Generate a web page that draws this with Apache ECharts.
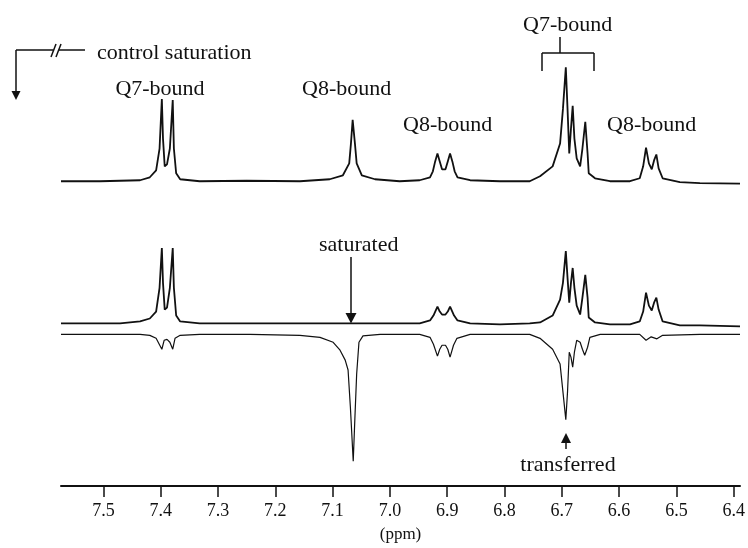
<!DOCTYPE html>
<html>
<head>
<meta charset="utf-8">
<script src="https://cdn.jsdelivr.net/npm/echarts@6/dist/echarts.min.js"></script>
<style>
  html, body { margin: 0; padding: 0; background: #fff; }
  #nmr { width: 748px; height: 548px; }
</style>
</head>
<body>
<div id="nmr"></div>
<script>
// [ppm, intensity] pairs (arbitrary units, baseline = 0)
var controlSpectrum = [
  [7.574, 0], [7.506, 0], [7.436, 1], [7.419, 4], [7.408, 11], [7.402, 33], [7.398, 83],
  [7.396, 43], [7.393, 15], [7.389, 17], [7.384, 33], [7.379, 82], [7.377, 33], [7.373, 8],
  [7.366, 2], [7.332, 0], [7.25, 0.5], [7.157, 0], [7.105, 2], [7.082, 6], [7.071, 18],
  [7.068, 38], [7.065, 62], [7.061, 38], [7.058, 18], [7.049, 6], [7.026, 2], [6.983, 0],
  [6.948, 1], [6.93, 4], [6.925, 10], [6.921, 20], [6.917, 28], [6.913, 20], [6.909, 12],
  [6.906, 10], [6.903, 12], [6.899, 20], [6.895, 28], [6.891, 20], [6.887, 10], [6.882, 4],
  [6.86, 1], [6.808, 0], [6.756, 0], [6.738, 5], [6.716, 15],
  [6.703, 38], [6.698, 73], [6.693, 115], [6.69, 73], [6.687, 28], [6.684, 53], [6.681, 76],
  [6.678, 43], [6.674, 23], [6.668, 15], [6.664, 33], [6.659, 60], [6.655, 28], [6.653, 8],
  [6.642, 3], [6.616, 0], [6.581, 0], [6.564, 3], [6.558, 15], [6.553, 34], [6.548, 18],
  [6.543, 12], [6.539, 21], [6.535, 27], [6.531, 13], [6.524, 3], [6.494, -1], [6.459, -2],
  [6.389, -2.5]
];

var saturatedSpectrum = [
  [7.574, 0], [7.471, 0], [7.436, 2], [7.419, 5], [7.408, 12], [7.402, 36], [7.398, 76],
  [7.396, 41], [7.393, 14], [7.389, 16], [7.384, 36], [7.379, 76], [7.377, 36], [7.373, 8],
  [7.366, 2], [7.332, 0], [7.2, 0], [7.07, 0], [6.948, 0], [6.93, 3], [6.924, 8],
  [6.917, 17], [6.913, 12], [6.909, 9], [6.906, 8], [6.903, 9], [6.899, 12], [6.895, 17],
  [6.888, 8], [6.882, 3], [6.86, 0],
  [6.808, -1], [6.756, 0], [6.738, 1], [6.716, 8], [6.703, 24], [6.698, 41], [6.693, 73],
  [6.69, 46], [6.687, 21], [6.684, 41], [6.681, 56], [6.678, 36], [6.674, 18], [6.668, 9],
  [6.664, 26], [6.659, 49], [6.655, 26], [6.653, 6], [6.642, 1], [6.616, -1], [6.581, -1],
  [6.564, 2], [6.558, 12], [6.553, 31], [6.548, 18], [6.543, 13], [6.539, 21], [6.535, 26],
  [6.531, 14], [6.524, 2], [6.494, -2], [6.459, -2], [6.389, -3]
];

var differenceSpectrum = [
  [7.574, 0], [7.436, 0], [7.419, -1], [7.408, -4], [7.398, -15], [7.394, -6], [7.389, -5],
  [7.384, -8], [7.379, -15], [7.375, -4], [7.366, -1], [7.332, 0], [7.244, 0], [7.157, -1],
  [7.122, -3], [7.099, -8], [7.087, -16], [7.078, -26], [7.073, -36], [7.069, -73],
  [7.064, -128], [7.061, -83], [7.058, -40], [7.054, -8], [7.047, -1.5], [7.017, 0],
  [6.948, 0], [6.93, -3], [6.924, -10], [6.917, -22], [6.913, -15], [6.909, -11], [6.906, -10],
  [6.903, -11], [6.899, -15], [6.895, -23], [6.889, -11], [6.883, -4], [6.86, 0],
  [6.756, 0], [6.738, -4], [6.716, -15], [6.703, -30],
  [6.698, -58], [6.693, -86], [6.69, -58], [6.687, -18], [6.684, -23], [6.681, -33],
  [6.678, -18], [6.674, -6], [6.668, -8], [6.664, -15], [6.66, -21], [6.655, -13],
  [6.651, -3], [6.633, 0], [6.564, 0], [6.553, -6], [6.544, -2.5], [6.534, -4.5],
  [6.524, -1], [6.459, 0], [6.389, 0]
];

var tickValues = [6.4, 6.5, 6.6, 6.7, 6.8, 6.9, 7.0, 7.1, 7.2, 7.3, 7.4, 7.5];

var serif = '"Liberation Serif", "DejaVu Serif", serif';

var myChart = echarts.init(document.getElementById("nmr"));

// hidden y axes, one per trace, so the three spectra stack vertically
function stackAxis(max, min) {
  return { type: "value", min: min, max: max, show: false };
}

function trace(data, axis, width) {
  return {
    type: "line",
    data: data,
    yAxisIndex: axis,
    symbol: "none",
    smooth: false,
    lineStyle: { color: "#111", width: width },
    silent: true,
  };
}

var txt = function (text, x, y, align) {
  return {
    type: "text",
    x: x,
    y: y,
    style: {
      text: text,
      font: "22px " + serif,
      fill: "#111",
      align: align || "left",
      verticalAlign: "middle",
    },
  };
};
var seg = function (x1, y1, x2, y2) {
  return {
    type: "line",
    shape: { x1: x1, y1: y1, x2: x2, y2: y2 },
    style: { stroke: "#111", lineWidth: 1.5 },
  };
};
var head = function (pts) {
  return { type: "polygon", shape: { points: pts }, style: { fill: "#111" } };
};

var option = {
  animation: false,
  backgroundColor: "#fff",
  grid: { left: 61, right: 8, top: 40, bottom: 57 },
  xAxis: {
    type: "value",
    inverse: true,
    min: 6.389,
    max: 7.574,
    name: "(ppm)",
    nameLocation: "middle",
    nameGap: 40,
    nameTextStyle: { fontFamily: serif, fontSize: 17, color: "#111" },
    splitLine: { show: false },
    axisLine: { onZero: false, lineStyle: { color: "#111", width: 2 } },
    axisTick: {
      customValues: tickValues,
      length: 11,
      lineStyle: { color: "#111", width: 1.5 },
    },
    axisLabel: {
      customValues: tickValues,
      margin: 16,
      fontFamily: serif,
      fontSize: 18,
      color: "#111",
      formatter: function (v) {
        return v.toFixed(1);
      },
    },
  },
  yAxis: [stackAxis(142.5, -307.5), stackAxis(286, -164), stackAxis(297, -153)],
  series: [
    trace(controlSpectrum, 0, 1.8),
    trace(saturatedSpectrum, 1, 1.8),
    trace(differenceSpectrum, 2, 1.2),
  ],
  graphic: [
    // control saturation marker
    seg(16, 50, 53, 50),
    seg(59, 50, 85, 50),
    seg(51, 57, 56, 44),
    seg(56, 57, 61, 44),
    seg(16, 50, 16, 92),
    head([[11.5, 91], [20.5, 91], [16, 100]]),
    txt("control saturation", 97, 53),
    // peak labels
    txt("Q7-bound", 160, 89, "center"),
    txt("Q8-bound", 302, 89),
    txt("Q8-bound", 403, 125),
    txt("Q7-bound", 523, 25),
    txt("Q8-bound", 607, 125),
    // bracket over the Q7 multiplet
    seg(560, 37, 560, 53),
    seg(542, 53, 594, 53),
    seg(542, 53, 542, 71),
    seg(594, 53, 594, 71),
    // saturated arrow
    txt("saturated", 319, 245),
    seg(351, 257, 351, 314),
    head([[345.5, 313], [356.5, 313], [351, 323.5]]),
    // transferred arrow
    seg(566, 442, 566, 449),
    head([[561, 443], [571, 443], [566, 433]]),
    txt("transferred", 568, 465, "center"),
  ],
};

myChart.setOption(option);
</script>
</body>
</html>
